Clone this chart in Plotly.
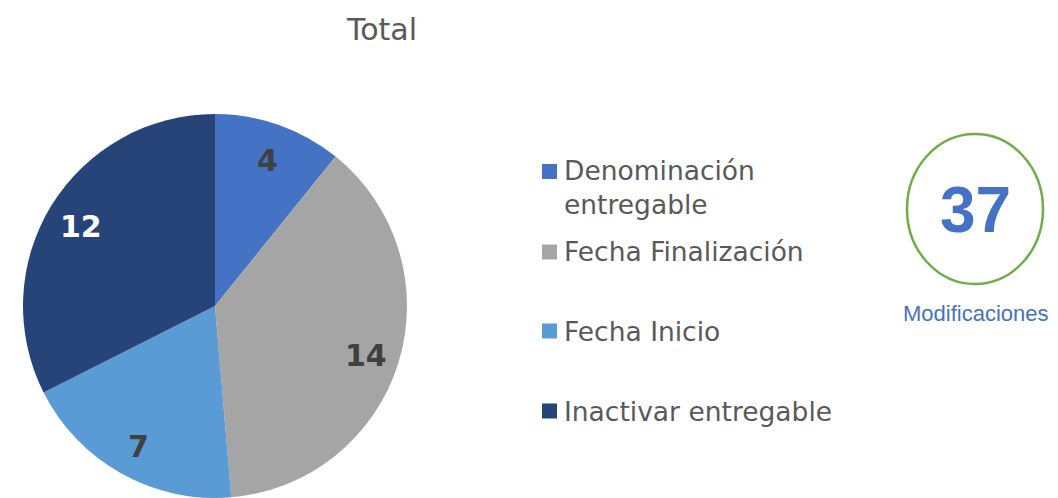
import math
import plotly.graph_objects as go

# ---- data ----
categories = ["Denominación entregable", "Fecha Finalización", "Fecha Inicio", "Inactivar entregable"]
legend_text = ["Denominación<br>entregable", "Fecha Finalización", "Fecha Inicio", "Inactivar entregable"]
values = [4, 14, 7, 12]
total_label = "Modificaciones"
title_text = "Total"

# ---- style ----
colors = ["#4472C4", "#A5A5A5", "#5B9BD5", "#264478"]
label_colors = ["#404040", "#404040", "#404040", "#FFFFFF"]
W, H = 1058, 498
CX, CY, R = 215, 306, 192  # pie centre / radius in pixels (layout)

fig = go.Figure()
fig.add_trace(go.Pie(
    labels=categories,
    values=values,
    sort=False,
    direction="clockwise",
    rotation=0,
    marker=dict(colors=colors, line=dict(width=0)),
    textinfo="none",
    showlegend=False,
    domain=dict(x=[(CX - R) / W, (CX + R) / W], y=[1 - (CY + R) / H, 1 - (CY - R) / H]),
    hoverinfo="label+value",
))

shapes = []
annotations = []

# data labels placed along each slice's mid-angle
total = sum(values)
cum = 0
for v, lc in zip(values, label_colors):
    mid = (cum + v / 2) / total * 2 * math.pi
    cum += v
    px = CX + 0.82 * R * math.sin(mid)
    py = CY - 0.82 * R * math.cos(mid) + 3
    annotations.append(dict(text=f"<b>{v}</b>", x=px / W, y=1 - py / H, xref="paper", yref="paper",
                            showarrow=False, xanchor="center", yanchor="middle",
                            font=dict(family="DejaVu Sans", size=30, color=lc)))

# title
annotations.append(dict(text=title_text, x=381 / W, y=1 - 29 / H, xref="paper", yref="paper",
                        showarrow=False, xanchor="center", yanchor="middle",
                        font=dict(family="DejaVu Sans", size=30, color="#595959")))

# manual legend
sq_centers = [171.5, 252, 331, 411]
txt_centers = [187.5, 252, 331, 411]
for lab, col, sc, tc in zip(legend_text, colors, sq_centers, txt_centers):
    shapes.append(dict(type="rect", xref="paper", yref="paper",
                       x0=542 / W, x1=557 / W, y0=1 - (sc - 7.5) / H, y1=1 - (sc + 7.5) / H,
                       fillcolor=col, line=dict(width=0)))
    annotations.append(dict(text=lab, x=562 / W, y=1 - tc / H, xref="paper", yref="paper",
                            showarrow=False, xanchor="left", yanchor="middle", align="left",
                            font=dict(family="DejaVu Sans", size=26.5, color="#595959")))

# total circle
shapes.append(dict(type="circle", xref="paper", yref="paper",
                   x0=907 / W, x1=1043 / W, y0=1 - 134 / H, y1=1 - 284 / H,
                   line=dict(color="#70AD47", width=2.5), fillcolor="rgba(0,0,0,0)"))
annotations.append(dict(text=f"<b>{total}</b>", x=975 / W, y=1 - 210 / H, xref="paper", yref="paper",
                        showarrow=False, xanchor="center", yanchor="middle",
                        font=dict(family="Liberation Sans", size=64, color="#4472C4")))
annotations.append(dict(text=total_label, x=976 / W, y=1 - 313 / H, xref="paper", yref="paper",
                        showarrow=False, xanchor="center", yanchor="middle",
                        font=dict(family="Liberation Sans", size=22, color="#4472C4")))

fig.update_layout(
    width=W, height=H,
    margin=dict(l=0, r=0, t=0, b=0),
    paper_bgcolor="white",
    plot_bgcolor="white",
    shapes=shapes,
    annotations=annotations,
)

fig.write_html("out.html", config={"displayModeBar": False},
               post_script="document.body.style.margin='0';document.body.style.overflow='hidden';")
